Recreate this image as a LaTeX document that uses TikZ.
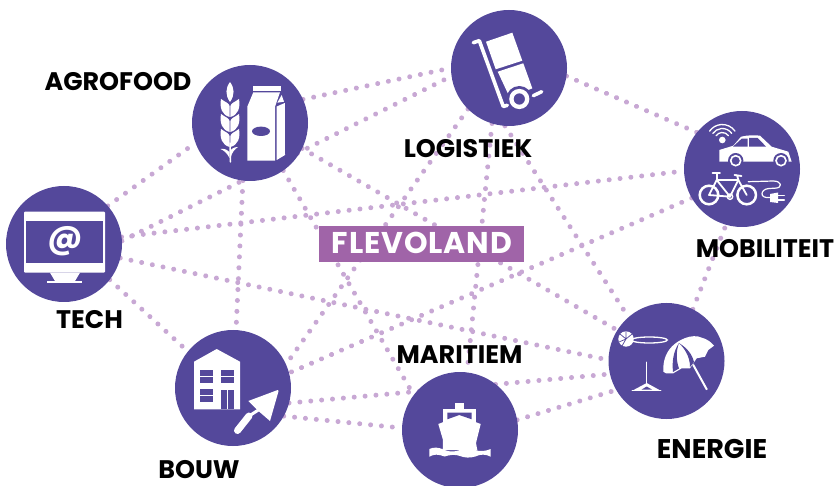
\documentclass[tikz,border=0pt]{standalone}
\usepackage{fontspec}
\setmainfont{Poppins}
\definecolor{hub}{HTML}{54489B}
\definecolor{dotc}{HTML}{C8A8D4}
\definecolor{flevo}{HTML}{A064A8}
\pgfdeclarelayer{lines}
\pgfsetlayers{lines,main}
\tikzset{
  hubnode/.style={circle,fill=hub,draw=none,minimum size=116pt,inner sep=0pt,outer sep=0pt},
  dotline/.style={draw=dotc,line width=5pt,line cap=round,dash pattern=on 0.01pt off 10.9pt},
  lab/.style={anchor=base,inner sep=0pt,text=black,font=\fontsize{#1}{#1}\selectfont\bfseries},
  ifill/.style={fill=white,draw=none},
  ihole/.style={fill=hub,draw=none},
  iline/.style={draw=white,fill=none,line cap=round,line join=round,line width=#1},
  iline/.default=2pt
}
\begin{document}
\begin{tikzpicture}[x=1pt,y=-1pt]
\useasboundingbox (0,0) rectangle (838,486);
\clip (0,0) rectangle (838,486);
% hubs
\node[hubnode] (agro) at (250,123) {};
\node[hubnode] (logi) at (509,68) {};
\node[hubnode] (mobi) at (742,169) {};
\node[hubnode] (ener) at (666.5,361) {};
\node[hubnode] (mari) at (460,430) {};
\node[hubnode] (bouw) at (233,388) {};
\node[hubnode] (tech) at (64,244) {};
% connectors
\begin{pgfonlayer}{lines}
\draw[dotline] (agro.24) -- (logi.180);
\draw[dotline] (tech.3) -- (logi.188);
\draw[dotline] (tech.7) -- (mobi.182);
\draw[dotline] (tech.41) -- (agro.200);
\draw[dotline] (agro.263) -- (bouw.87);
\draw[dotline] (tech.-14) -- (ener.179);
\draw[dotline] (tech.-38) -- (bouw.141);
\draw[dotline] (agro.-26) -- (ener.148);
\draw[dotline] (agro.-55) -- (mari.143);
\draw[dotline] (logi.225) -- (bouw.24);
\draw[dotline] (logi.253) -- (mari.83);
\draw[dotline] (logi.266) -- (ener.131);
\draw[dotline] (logi.-8) -- (mobi.141);
\draw[dotline] (ener.63) -- (mobi.254);
\draw[dotline] (mobi.210) -- (bouw.15);
\draw[dotline] (bouw.-15) -- (ener.193);
\draw[dotline] (bouw.-29) -- (mari.178);
\draw[dotline] (mari.10) -- (ener.210);
\end{pgfonlayer}
% centre label
\node[fill=flevo,minimum width=205pt,minimum height=36pt,inner sep=0pt] (flevoland) at (421.8,244.2) {};
\node[anchor=base,inner sep=0pt,text=white,font=\fontsize{30}{30}\selectfont\bfseries\addfontfeature{LetterSpace=3}] (flevotext) at (422,253.8) {FLEVOLAND};
% labels
\node[lab=25.4] (lagro) at (118,91) {AGROFOOD};
\node[lab=25.4] (llogi) at (468,157.3) {LOGISTIEK};
\node[lab=25.4] (lmobi) at (765,258) {MOBILITEIT};
\node[lab=27] (lener) at (712,458) {ENERGIE};
\node[lab=25.4] (lmari) at (459.5,363.3) {MARITIEM};
\node[lab=25.4] (lbouw) at (199,478) {BOUW};
\node[lab=25.4] (ltech) at (89.5,329) {TECH};
% --- agrofood icon
\fill[ifill] (230,82) .. controls (225.5,88) and (225,95) .. (230,102) .. controls (235,95) and (234.5,88) .. (230,82) -- cycle;
\foreach \y in {100,115,130}{
  \fill[ifill] (229.6,\y+17) .. controls (222,\y+15) and (219.5,\y+8) .. (221,\y-1) .. controls (225,\y+2) and (229,\y+3) .. (229.6,\y+6) -- cycle;
  \fill[ifill] (230.4,\y+17) .. controls (238,\y+15) and (240.5,\y+8) .. (239,\y-1) .. controls (235,\y+2) and (231,\y+3) .. (230.4,\y+6) -- cycle;
}
\fill[ifill] (229.5,158) .. controls (227,153) and (224,150.5) .. (220.5,149) .. controls (225,148.5) and (228,150) .. (229.5,152) -- cycle;
\fill[ifill] (230.5,158) .. controls (232,152) and (235,149) .. (238,147) .. controls (234,147) and (231,149) .. (230.5,151) -- cycle;
\draw[iline=1.5pt] (230,143) -- (230.5,162);
\fill[ifill] (247.3,106.7) -- (253.3,92.3) -- (280,92.3) -- (275,106.7) -- (275,160.7) -- (247.3,160.7) -- cycle;
\fill[ifill] (253,86) rectangle (280.7,90.7);
\fill[ifill] (277.3,102.7) -- (281.7,95) -- (284,101.7) -- cycle;
\fill[ifill] (276.7,106.5) -- (284.8,103) -- (285,155) -- (276.7,160) -- cycle;
\fill[ihole] (261,131.3) ellipse[x radius=9,y radius=4.7];
% --- logistiek icon
\fill[ifill] (486,41.7) -- (512.3,32.7) -- (522.3,60.7) -- (495.7,69.3) -- cycle;
\fill[ifill] (497.7,71.7) -- (523.3,63.3) -- (532.3,88.3) -- (510,98) -- cycle;
\fill[ihole] (519.3,99) circle[radius=13];
\draw[iline=3.6pt] (473.3,42.7) -- (479.3,40.7) -- (503.3,106.5) -- (507.3,105.3);
\draw[iline=3.5pt] (533.3,95.7) -- (541.7,91.7);
\draw[white,line width=4.3pt] (519.3,99) circle[radius=7.9];
% --- mobiliteit icon
\fill[ifill] (722.3,140) circle[radius=3.3];
\foreach \r in {7.5,11.5,15.5}{
  \draw[white,line width=1.3pt,line cap=round] (722.3,140) ++(35:\r pt) arc[start angle=35,end angle=145,radius=\r pt];
}
\fill[ifill] (719.3,150) -- (733.3,145.7) -- (741,136.7) .. controls (748,135) and (755,135) .. (760,135.7) -- (771.7,146.7) -- (788.3,151.7) -- (791.7,161.7) -- (719.3,161.7) -- cycle;
\fill[ihole] (733,146.6) -- (741.8,138.6) -- (747.6,138.6) -- (747.6,146.6) -- cycle;
\fill[ihole] (749,146.6) -- (749,137.8) -- (757.5,137.8) -- (766,146.6) -- cycle;
\foreach \x in {735.7,781}{
  \fill[ihole] (\x,160.7) circle[radius=7.7];
  \draw[white,line width=1.6pt] (\x,160.7) circle[radius=5];
}
\draw[iline=2.5pt] (709,195) circle[radius=9.3];
\draw[iline=2.5pt] (746.7,195) circle[radius=9.3];
\draw[iline=1.8pt] (709,195) -- (716.7,180) -- (738.3,180) -- (730,196.7) -- cycle;
\draw[iline=1.8pt] (716.7,180) -- (730,196.7);
\draw[iline=1.8pt] (738.3,180) -- (746.7,195);
\draw[iline=1.8pt] (716.7,180) -- (716.7,173) (712.5,172.7) -- (720,172.7);
\draw[iline=1.8pt] (738.3,180) -- (737,175) (734.5,175) -- (741.5,176);
\draw[iline=1.4pt] (730,196.7) circle[radius=2.7];
\draw[iline=1.2pt] (748.3,181.7) -- (773.3,181) .. controls (782,181) and (783,188) .. (775,188.2) -- (769,188.5) .. controls (760,189) and (759,199) .. (770,197.5);
\fill[ifill] (770,194) -- (778,192.5) -- (778,203) -- (770,202) -- cycle;
\draw[iline=1.5pt] (778,195.7) -- (784.3,195.7) (778,200) -- (784.3,200);
% --- energie icon
\draw[white,line width=1.3pt] (649.3,340) ellipse[x radius=18,y radius=3];
\fill[ifill] (626,339) circle[radius=7.7];
\draw[hub,line width=0.7pt] (626,339) -- (626,331.3) (626,339) -- (620,334) (626,339) -- (632,334) (626,339) -- (619,342) (626,339) -- (622,346);
\draw[iline=1.3pt] (646.7,362.3) -- (646.7,384);
\draw[iline=1.5pt] (632.3,390.7) -- (660.7,390.7);
\fill[ifill] (646.7,383) -- (632.3,390.7) -- (660.7,390.7) -- cycle;
\fill[ihole] (646.7,386.5) -- (641.5,389.6) -- (652,389.6) -- cycle;
\fill[ifill] (663.3,371.7) .. controls (663,362) and (665,354) .. (671.7,346.7) .. controls (678,340) and (692,333) .. (701.7,337.7) .. controls (707,339) and (711,342) .. (714,345.7) -- (708.3,350) -- (705,356.7) -- (696.7,358.3) -- (690,368.3) -- (681.7,368.3) -- (673.3,373.3) -- (666,373.3) -- cycle;
\fill[ihole] (679,343) .. controls (673,352) and (672,362) .. (673,372) -- (679,368.5) .. controls (676,360) and (676,351) .. (679,343) -- cycle;
\fill[ihole] (679,343) .. controls (684,348) and (690,356) .. (690,367) -- (694,362) .. controls (692,354) and (687,348) .. (679,343) -- cycle;
\draw[iline=2pt] (693.3,365) -- (706.7,389.3);
% --- maritiem icon
\fill[ifill] (455.3,403.3) rectangle (464,410);
\fill[ifill] (442.7,409.3) rectangle (476,424);
\fill[ihole] (447.3,412.7) -- (471.7,412.7) -- (471.7,419.3) -- (459.3,415) -- (447.3,419.3) -- cycle;
\fill[ifill] (438.3,424) -- (459.3,416) -- (480.7,424) -- (476,443) -- (477.3,450) -- (442.7,450) -- (443,440) -- cycle;
\fill[ifill] (429.3,449) .. controls (434,447) and (438,447) .. (444.6,450) .. controls (449,452) and (455,452) .. (460,450) .. controls (465,448) and (470,448) .. (475.4,450) .. controls (480,452) and (486,451) .. (490.7,449) -- (490.7,456.7) .. controls (486,454) and (480,454) .. (475.4,456.5) .. controls (470,458) and (465,458) .. (460,456) .. controls (455,454) and (449,455) .. (444.6,456.5) .. controls (438,454) and (434,454) .. (429.3,456.7) -- cycle;
% --- bouw icon
\fill[ifill] (194,361.7) -- (216.7,349) -- (240,361.7) -- (240,409.3) -- (194,409.3) -- cycle;
\fill[ihole] (200,370) rectangle (213.3,383.3);
\fill[ihole] (220.7,370) rectangle (234,383.3);
\fill[ihole] (200,389) rectangle (213.3,401.7);
\fill[ihole] (220.7,390) rectangle (234,409.3);
\fill[ifill] (199,376) rectangle (214,377.4);
\fill[ifill] (220,376) rectangle (235,377.4);
\fill[ifill] (199,394.6) rectangle (214,396);
\fill[ifill] (226.7,390) rectangle (228,409.3);
\fill[ifill] (248.3,401) -- (277.7,390) .. controls (279,390) and (278.5,391.5) .. (278,393) -- (270,421) -- (259,411.5) -- cycle;
\draw[iline=3pt] (260,409) -- (249,416);
\draw[iline=7pt] (249,416) -- (237.5,430.5);
% --- tech icon
\fill[ifill,rounded corners=1pt] (24,211.7) rectangle (105,272.7);
\fill[ihole] (26,220.7) rectangle (102.7,262.7);
\fill[ifill] (50,272.7) -- (80,272.7) -- (75,281) -- (55,281) -- cycle;
\fill[ifill] (46.7,281) rectangle (81.7,283.3);
\node[inner sep=0pt,text=white,font=\fontsize{33}{33}\selectfont\bfseries] (atsign) at (65,241) {@};
\end{tikzpicture}
\end{document}
